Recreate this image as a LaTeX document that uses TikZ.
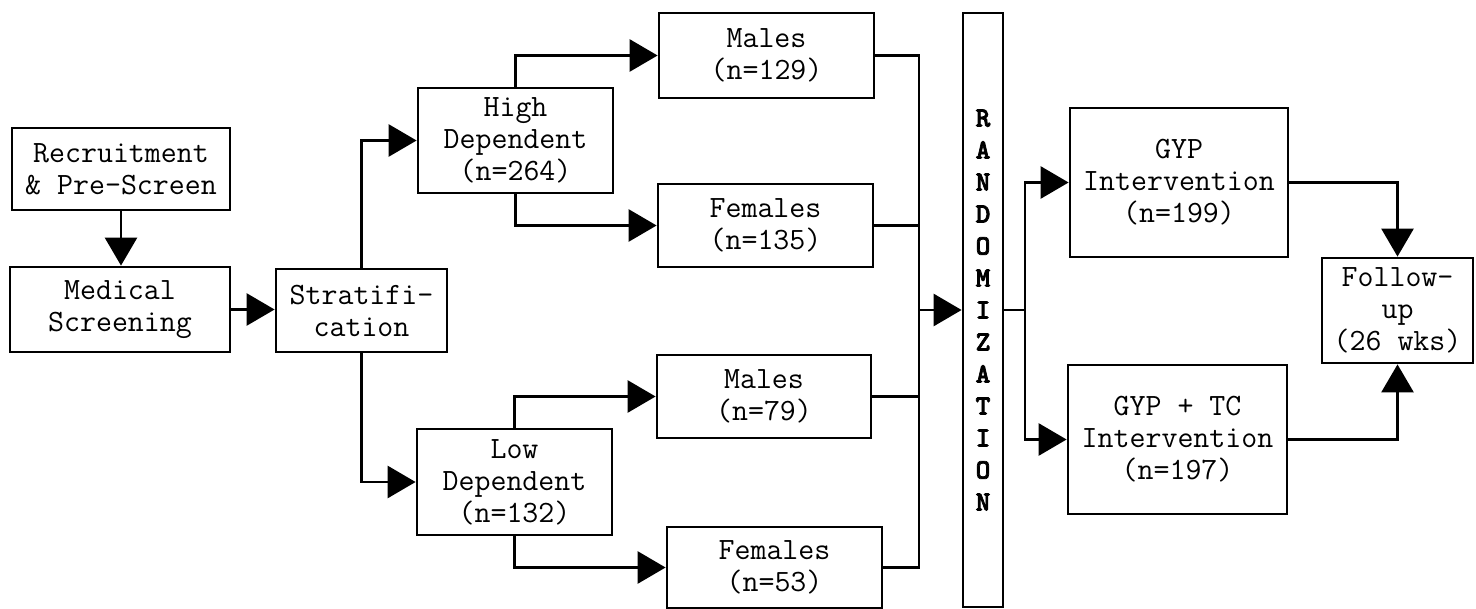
\documentclass[tikz,border=0pt]{standalone}
\usepackage{fontspec}
\newfontfamily\randfont[FakeBold=2.5]{lmmonolt10-bold.otf}
\usetikzlibrary{arrows.meta}
\begin{document}
\begin{tikzpicture}[x=0.5pt,y=-0.5pt,
  box/.style={draw,line width=1.4pt,inner sep=0pt,align=center,
    font=\ttfamily\fontsize{15.5}{16}\selectfont},
  wh/.style 2 args={minimum width=#1*0.5pt,minimum height=#2*0.5pt},
  conn/.style={line width=1.4pt},
  arr/.style={conn,-{Triangle[length=14pt,width=16pt]}}]
\useasboundingbox (0,0) rectangle (1476,609);

\node[box,wh={218}{82}] (rec) at (121,169) {Recruitment\\\& Pre-Screen};
\node[box,wh={220}{85}] (med) at (120,309.5) {Medical\\Screening};
\node[box,wh={171}{83}] (strat) at (361.5,310.5) {Stratifi-\\cation};
\node[box,wh={195}{105}] (hd) at (515.5,140.5) {High\\Dependent\\(n=264)};
\node[box,wh={195}{106}] (ld) at (514.5,482) {Low\\Dependent\\(n=132)};
\node[box,wh={215}{85}] (m1) at (766.5,55.5) {Males\\(n=129)};
\node[box,wh={215}{83}] (f1) at (765.5,225.5) {Females\\(n=135)};
\node[box,wh={214}{83}] (m2) at (764,396.5) {Males\\(n=79)};
\node[box,wh={215}{81}] (f2) at (774.5,567.5) {Females\\(n=53)};
\node[box,wh={40}{594},font=\randfont\fontsize{14}{16}\selectfont] (rand) at (983,310)
  {R\\A\\N\\D\\O\\M\\I\\Z\\A\\T\\I\\O\\N};
\node[box,wh={218}{149}] (gyp) at (1179,182.5) {GYP\\Intervention\\(n=199)};
\node[box,wh={219}{149}] (gtc) at (1177.5,439.5) {GYP + TC\\Intervention\\(n=197)};
\node[box,wh={151}{105}] (fu) at (1397.5,310.5) {Follow-\\up\\(26 wks)};

\coordinate (col) at (919,0);
\coordinate (br) at (1025,0);

\draw[arr] (rec.south) -- (rec.south |- med.north);
\draw[arr] (med.east) -- (med.east -| strat.west);
\draw[arr] (strat.north) |- (hd.west);
\draw[arr] (strat.south) |- (ld.west);
\draw[arr] (hd.north) |- (m1.west);
\draw[arr] (hd.south) |- (f1.west);
\draw[arr] (ld.north) |- (m2.west);
\draw[arr] (ld.south) |- (f2.west);

\draw[conn] (m1.east) -| (col |- f2.east) -- (f2.east);
\draw[conn] (f1.east) -- (f1.east -| col);
\draw[conn] (m2.east) -- (m2.east -| col);
\draw[arr] (col |- rand.west) -- (rand.west);

\draw[conn] (rand.east) -- (rand.east -| br);
\draw[arr] (br |- rand.east) |- (gyp.west);
\draw[arr] (br |- rand.east) |- (gtc.west);
\draw[arr] (gyp.east) -| (fu.north);
\draw[arr] (gtc.east) -| (fu.south);
\end{tikzpicture}
\end{document}
